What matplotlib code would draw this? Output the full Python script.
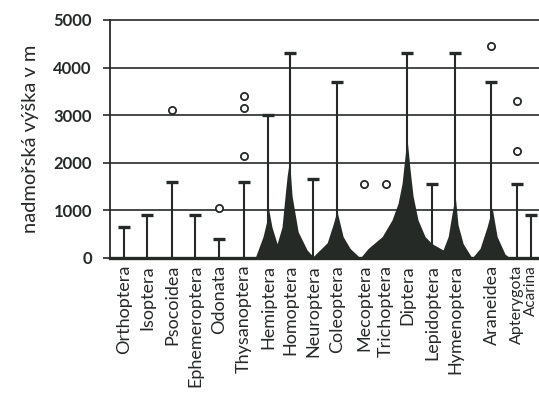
import numpy as np
import matplotlib
matplotlib.use("Agg")
import matplotlib.pyplot as plt

categories = ["Orthoptera", "Isoptera", "Psocoidea", "Ephemeroptera", "Odonata",
              "Thysanoptera", "Hemiptera", "Homoptera", "Neuroptera", "Coleoptera",
              "Mecoptera", "Trichoptera", "Diptera", "Lepidoptera", "Hymenoptera",
              "Araneidea", "Apterygota", "Acarina"]
positions = [0, 1, 2.05, 3.03, 4.06, 5.13, 6.15, 7.09, 8.08, 9.1,
             10.26, 11.2, 12.09, 13.16, 14.15, 15.7, 16.8, 17.4]
# maximum altitude (T bars), nan = no bar
max_alt = [650, 900, 1600, 900, 400, 1600, 3000, 4300, 1650, 3700,
           np.nan, np.nan, 4300, 1550, 4300, 3700, 1550, 900]
# isolated records (open circles)
circle_cat = ["Psocoidea", "Odonata", "Thysanoptera", "Thysanoptera", "Thysanoptera",
              "Mecoptera", "Trichoptera", "Araneidea", "Apterygota", "Apterygota"]
circle_alt = [3100, 1050, 2150, 3150, 3400, 1550, 1550, 4450, 2250, 3300]
# silhouette of species abundance (filled profile)
profile_x = [5.60, 5.94, 6.11, 6.17, 6.32, 6.54, 6.75, 6.88, 6.97, 7.07, 7.18, 7.44,
             7.82, 8.08, 8.68, 8.93, 9.10, 9.14, 9.36, 9.66, 10.09, 10.43, 11.03,
             11.45, 11.71, 11.88, 11.97, 12.05, 12.09, 12.22, 12.35, 12.56, 12.86,
             13.16, 13.63, 13.85, 14.02, 14.15, 14.27, 14.49, 14.87, 15.21, 15.51,
             15.73, 15.94, 16.28, 16.50]
profile_y = [0, 450, 800, 1050, 650, 300, 650, 1300, 1730, 2050, 1300, 550,
             170, 30, 320, 700, 1000, 900, 450, 200, 0, 200, 450,
             800, 1150, 1570, 1980, 2320, 2520, 1860, 1300, 800, 450,
             300, 170, 450, 950, 1300, 700, 300, 0, 200, 650,
             1050, 450, 80, 0]
yticks = [0, 1000, 2000, 3000, 4000, 5000]
ylabel = "nadmořská výška v m"

ink = "#262a27"
plt.rcParams['font.family'] = ['Lato', 'DejaVu Sans']

fig = plt.figure(figsize=(5.39, 3.99), dpi=100)
ax = fig.add_axes([110/539, 1 - 258/399, 1 - 110/539, (258 - 20)/399])

ax.set_xlim(-0.6, 17.73)
ax.set_ylim(0, 5000)

for v in yticks[1:]:
    ax.axhline(v, color=ink, lw=1.2, zorder=1, clip_on=False)

ax.fill_between(profile_x, profile_y, 0, color=ink, lw=0, zorder=2)

pos_map = dict(zip(categories, positions))
px = np.array(positions)
alt = np.array(max_alt, dtype=float)
m = ~np.isnan(alt)
ax.vlines(px[m], 0, alt[m], color=ink, lw=1.5, zorder=3)
ax.plot(px[m], alt[m], ls='none', marker='_', ms=8, mew=2.4, color=ink, zorder=3)

cx = [pos_map[c] for c in circle_cat]
ax.plot(cx, circle_alt, ls='none', marker='o', ms=5.2, mfc='white', mec=ink,
        mew=1.3, zorder=4)

for s in ['top', 'right']:
    ax.spines[s].set_visible(False)
ax.spines['left'].set_color(ink)
ax.spines['left'].set_linewidth(1.3)
ax.spines['bottom'].set_color(ink)
ax.spines['bottom'].set_linewidth(2.4)

ax.set_yticks(yticks)
ax.set_yticklabels([str(v) for v in yticks], fontsize=12, fontweight='bold', color=ink)
ax.tick_params(axis='y', length=5, width=1.2, color=ink, pad=8)
ax.set_xticks(positions)
ax.set_xticklabels(categories, rotation=90, fontsize=13, color=ink)
ax.tick_params(axis='x', length=0, pad=5)
labels = ax.get_xticklabels()
labels[-2].set_fontsize(11.5)
labels[-1].set_fontsize(11)

ax.set_ylabel(ylabel, fontsize=14.5, color=ink)
ax.yaxis.set_label_coords(-0.165, 0.5)

fig.savefig("out.png", dpi=100, facecolor='white')
